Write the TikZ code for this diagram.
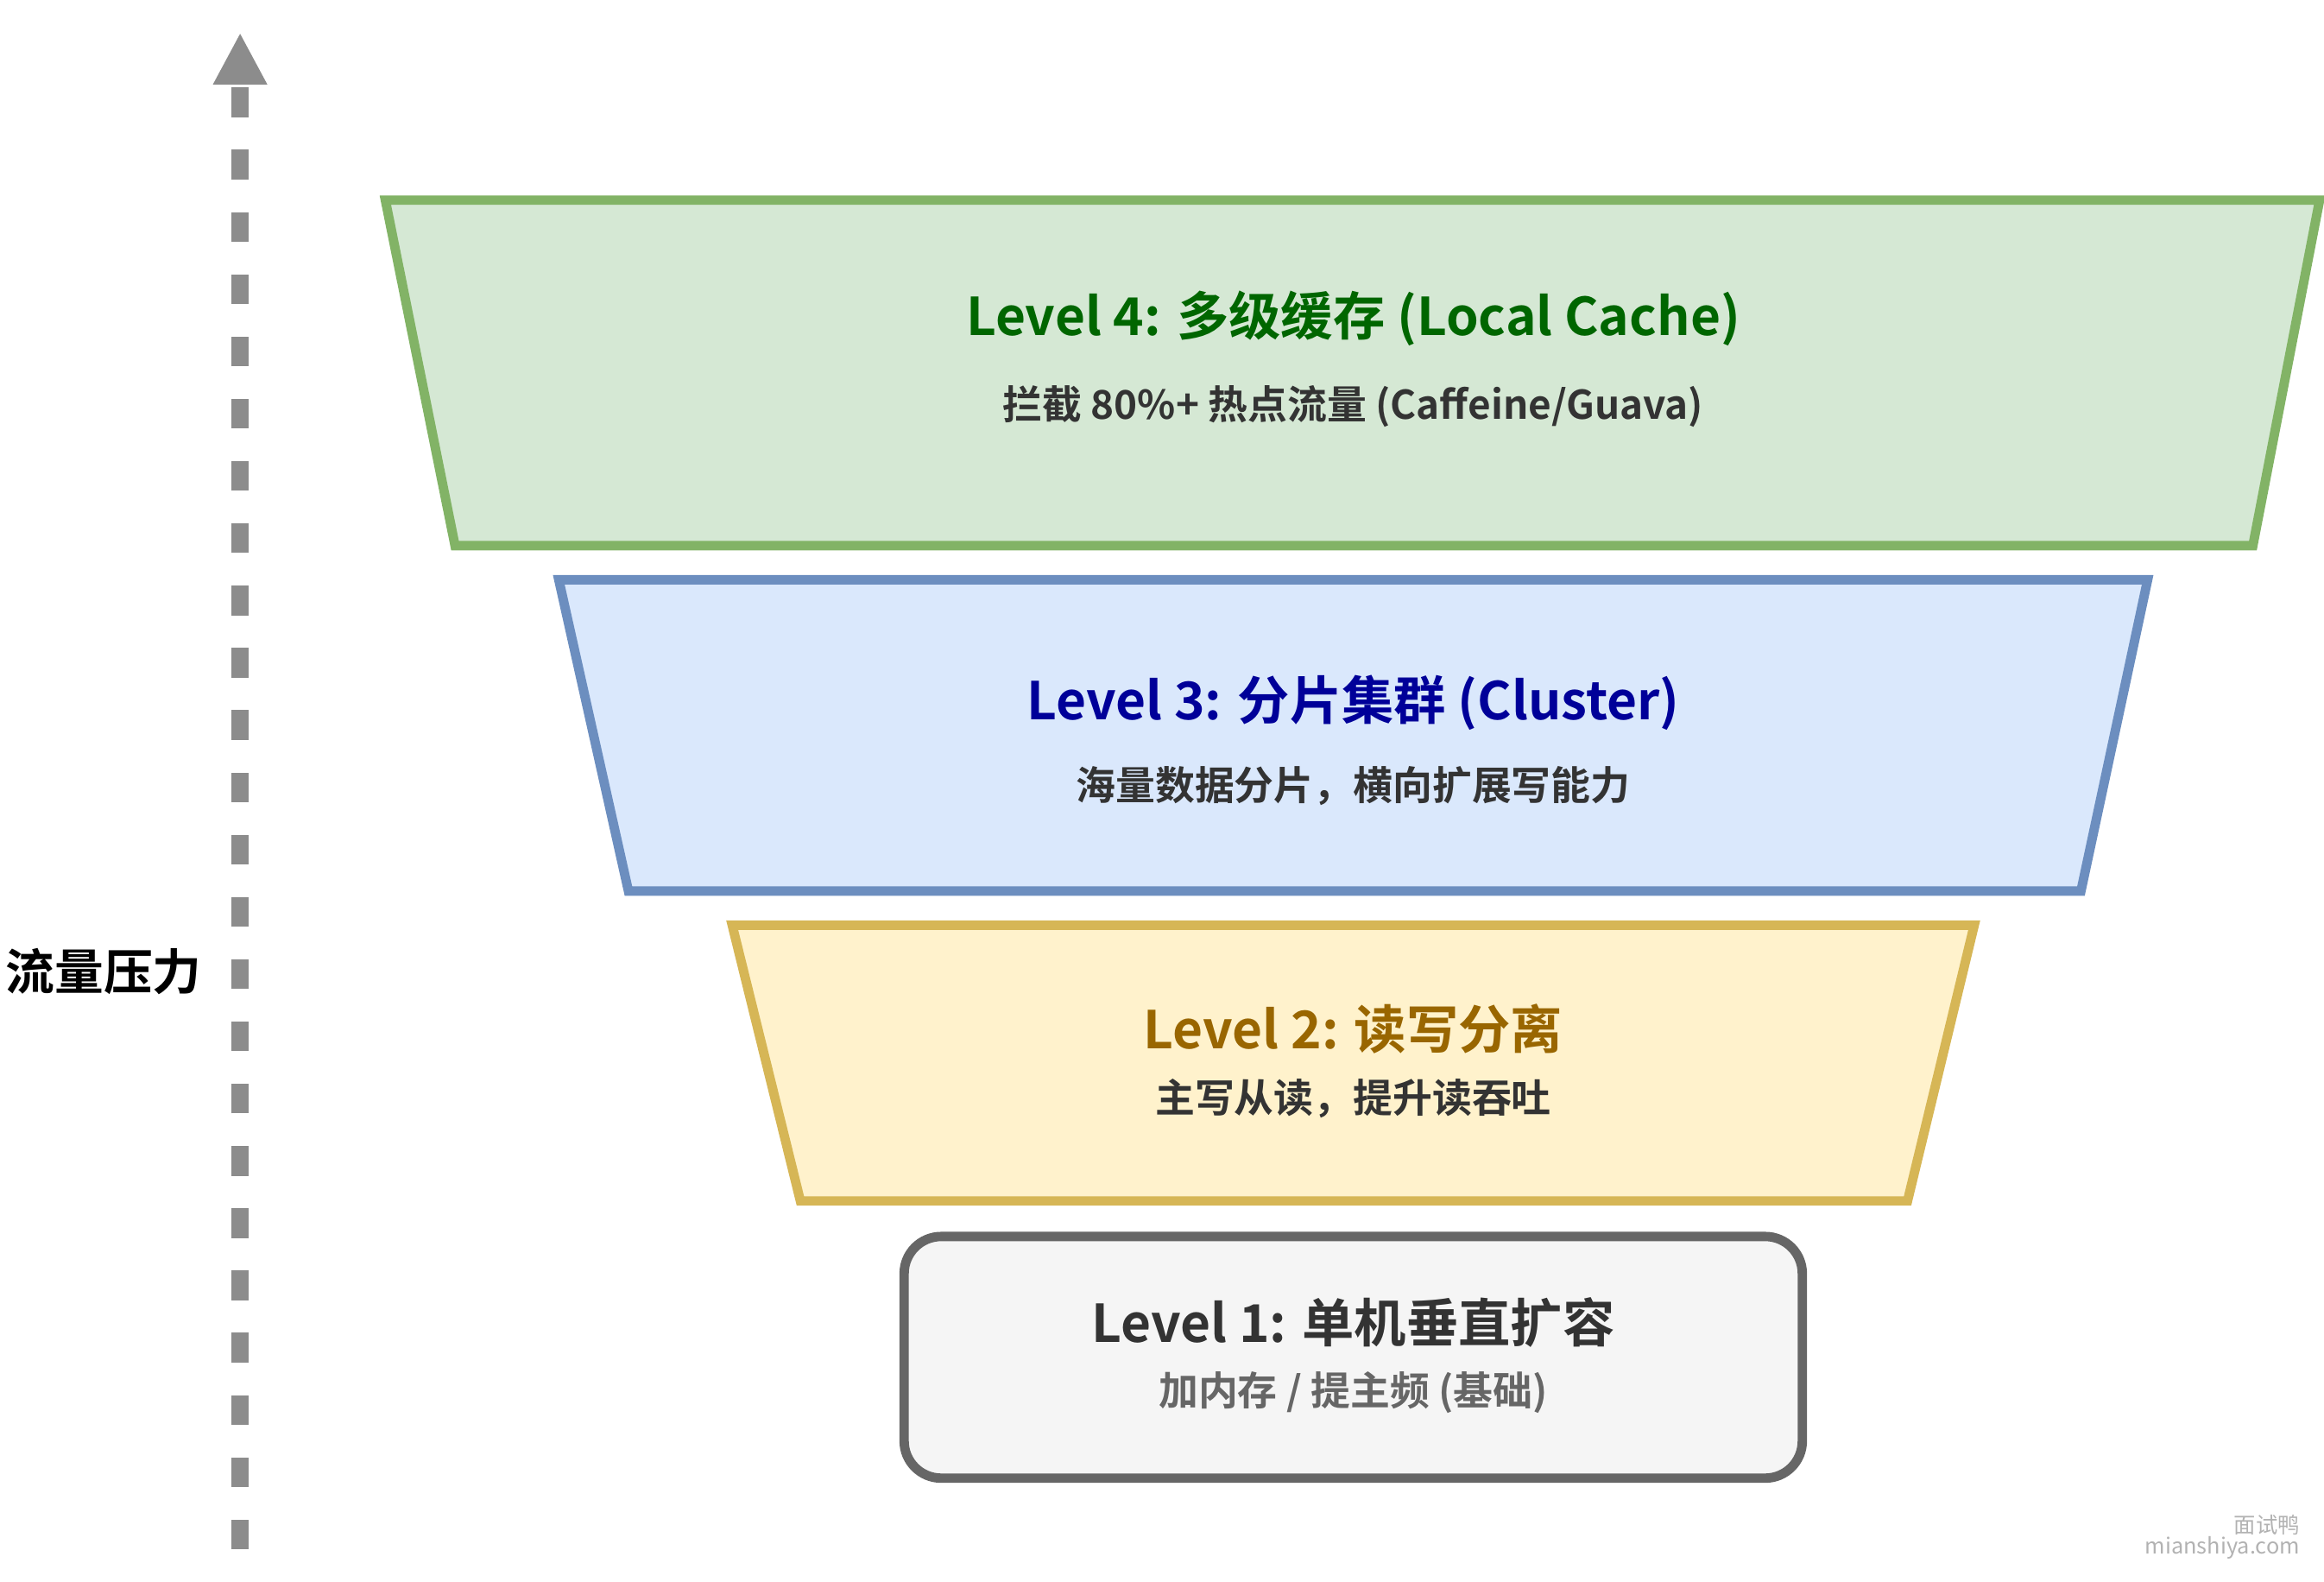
\documentclass[tikz,border=0pt]{standalone}
\usepackage{fontspec}
\setmainfont{Noto Sans CJK SC}[BoldFont={Noto Sans CJK SC Bold}]
\usetikzlibrary{arrows.meta}
\definecolor{gfill}{HTML}{D5E8D4}\definecolor{gline}{HTML}{82B366}
\definecolor{bfill}{HTML}{DAE8FC}\definecolor{bline}{HTML}{6C8EBF}
\definecolor{yfill}{HTML}{FFF2CC}\definecolor{yline}{HTML}{D6B656}
\definecolor{hfill}{HTML}{F5F5F5}\definecolor{hline}{HTML}{666666}
\begin{document}
\begin{tikzpicture}[y=-1cm,
  layer/.style={line width=1.8pt},
  title/.style={font=\fontsize{10}{12}\selectfont\bfseries},
  sub/.style={font=\fontsize{7.6}{9}\selectfont\bfseries, text=black!80}]
\useasboundingbox (0,0) rectangle (15.68,10.67);

% funnel layers
\draw[layer, fill=gfill, draw=gline] (2.60,1.35) -- (15.65,1.35) -- (15.20,3.68) -- (3.07,3.68) -- cycle;
\draw[layer, fill=bfill, draw=bline] (3.77,3.91) -- (14.49,3.91) -- (14.04,6.01) -- (4.24,6.01) -- cycle;
\draw[layer, fill=yfill, draw=yline] (4.94,6.24) -- (13.32,6.24) -- (12.87,8.10) -- (5.40,8.10) -- cycle;
\draw[layer, fill=hfill, draw=hline, rounded corners=0.25cm] (6.10,8.34) rectangle (12.16,9.97);

\node (t4) [title, text={rgb,255:red,0;green,102;blue,0}] at (9.13,2.15) {Level 4: 多级缓存 (Local Cache)};
\node (s4) [sub] at (9.13,2.74) {拦截 80\%+ 热点流量 (Caffeine/Guava)};
\node (t3) [title, text={rgb,255:red,0;green,0;blue,153}] at (9.13,4.74) {Level 3: 分片集群 (Cluster)};
\node (s3) [sub] at (9.13,5.30) {海量数据分片，横向扩展写能力};
\node (t2) [title, text={rgb,255:red,153;green,102;blue,0}] at (9.13,6.94) {Level 2: 读写分离};
\node (s2) [sub] at (9.13,7.41) {主写从读，提升读吞吐};
\node (t1) [title, text=black!80] at (9.13,8.92) {Level 1: 单机垂直扩容};
\node (s1) [sub, text=black!60] at (9.13,9.39) {加内存 / 提主频 (基础)};

% pressure axis
\coordinate (low) at (1.62,10.45);
\coordinate (high) at (1.62,0.22);
\draw[line width=3.2pt, draw=black!45, dash pattern=on 0.2cm off 0.22cm,
  -{Triangle[length=0.35cm,width=0.34cm]}] (low) -- (high);
\node (axis) [font=\fontsize{9.4}{12}\selectfont\bfseries] at (0.70,6.55) {流量压力};

\node (wm) [font=\fontsize{4.2}{5}\selectfont, text=black!30, align=right, anchor=south east] at (15.64,10.64) {面试鸭\\[-1pt]mianshiya.com};
\end{tikzpicture}
\end{document}
